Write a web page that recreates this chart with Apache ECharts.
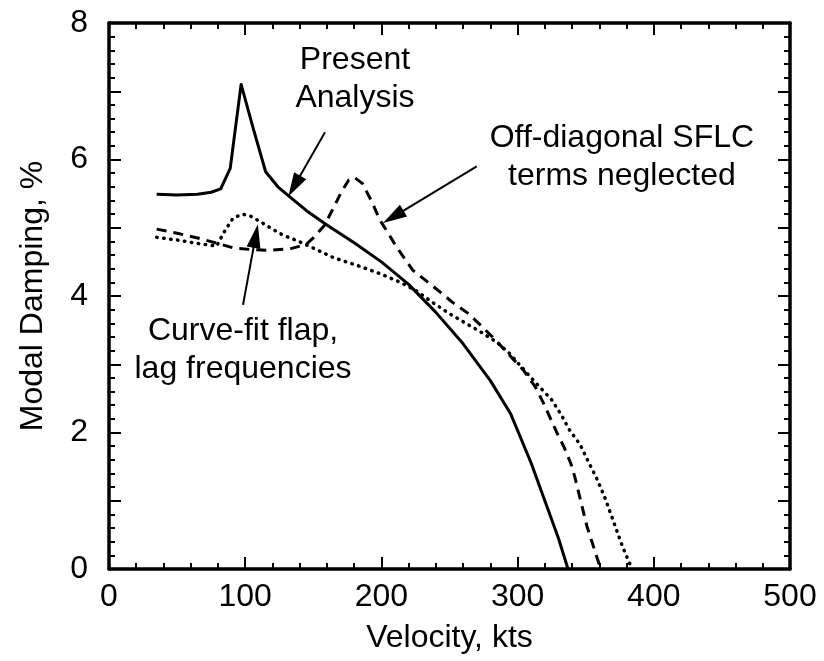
<!DOCTYPE html>
<html>
<head>
<meta charset="utf-8">
<script src="https://cdn.jsdelivr.net/npm/echarts@6/dist/echarts.min.js"></script>
<style>
  html, body { margin: 0; padding: 0; background: #fff; }
  #main { width: 824px; height: 661px; }
</style>
</head>
<body>
<div id="main"></div>
<script>
// present analysis (solid)
var presentKts = [35, 50, 65, 75, 82, 89, 97, 106, 115, 124, 133, 145, 160, 180, 200, 220, 240, 260, 280, 295, 310, 320, 330, 337];
var presentDamp = [5.49, 5.48, 5.49, 5.52, 5.57, 5.87, 7.1, 6.45, 5.82, 5.6, 5.45, 5.25, 5.04, 4.78, 4.5, 4.17, 3.76, 3.3, 2.76, 2.27, 1.55, 1.0, 0.45, 0];

// off-diagonal SFLC terms neglected (dashed)
var offdiagKts = [35, 50, 65, 80, 92, 105, 116, 133, 145, 150, 158, 164, 170, 176, 180, 186, 193, 199, 205, 211, 223, 243, 252, 264, 274, 285, 296, 304, 313, 319, 324, 329, 334, 339, 342, 351, 361];
var offdiagDamp = [4.98, 4.92, 4.85, 4.77, 4.7, 4.68, 4.67, 4.69, 4.76, 4.85, 5.03, 5.26, 5.5, 5.7, 5.74, 5.65, 5.38, 5.11, 4.92, 4.72, 4.38, 4.06, 3.91, 3.74, 3.55, 3.33, 3.09, 2.92, 2.67, 2.43, 2.21, 1.99, 1.79, 1.55, 1.35, 0.62, 0];

// curve-fit flap, lag frequencies (dotted)
var curvefitKts = [35, 50, 65, 79, 84, 91, 98, 104, 111, 120, 128, 137, 147, 165, 182, 200, 214, 226, 238, 250, 262, 274, 285, 294, 310, 325, 332, 338, 346, 352, 358, 364, 370, 377, 384];
var curvefitDamp = [4.86, 4.82, 4.77, 4.73, 4.92, 5.14, 5.2, 5.17, 5.09, 4.98, 4.89, 4.82, 4.73, 4.56, 4.45, 4.32, 4.2, 4.07, 3.9, 3.74, 3.6, 3.46, 3.32, 3.16, 2.8, 2.48, 2.26, 2.04, 1.82, 1.57, 1.33, 1.05, 0.72, 0.33, 0];

// annotation texts and arrows, in data units
var noteText = ['Present\nAnalysis', 'Off-diagonal SFLC\nterms neglected', 'Curve-fit flap,\nlag frequencies'];
var noteAt = [[180.6, 7.18], [376.6, 6.04], [98.4, 3.21]];
var arrowFrom = [[158.6, 6.4], [270, 5.9], [98.4, 3.87]];
var arrowTo = [[136.0, 5.61], [208.7, 5.16], [107.7, 4.88]];

var FONT = '"Liberation Sans", Arial, sans-serif';

function pairs(xs, ys) {
    var out = [];
    for (var i = 0; i < xs.length; i++) out.push([xs[i], ys[i]]);
    return out;
}

// same frame style on all four sides, ticks pointing in
function tickStyle() {
    return {
        axisLine: { show: true, onZero: false, lineStyle: { color: '#000', width: 3.5 } },
        axisTick: { show: true, inside: true, length: 12, lineStyle: { color: '#000', width: 2 } },
        minorTick: { show: true, splitNumber: 5, length: 6, lineStyle: { color: '#000', width: 2 } },
        splitLine: { show: false },
        minorSplitLine: { show: false }
    };
}

function makeX(pos, withLabels) {
    var a = tickStyle();
    a.type = 'value'; a.min = 0; a.max = 500; a.interval = 100; a.position = pos;
    a.axisLabel = withLabels
        ? { show: true, fontSize: 32, color: '#000', margin: 12, fontFamily: FONT }
        : { show: false };
    if (withLabels) {
        a.name = 'Velocity, kts'; a.nameLocation = 'middle'; a.nameGap = 53;
        a.nameTextStyle = { fontSize: 32, color: '#000', fontFamily: FONT };
    }
    return a;
}

function makeY(pos, withLabels) {
    var a = tickStyle();
    a.type = 'value'; a.min = 0; a.max = 8; a.interval = 1; a.position = pos;
    a.axisLabel = withLabels
        ? {
            show: true, fontSize: 32, color: '#000', margin: 21, fontFamily: FONT,
            formatter: function (v) { return v % 2 === 0 ? String(v) : ''; }
        }
        : { show: false };
    if (withLabels) {
        a.name = 'Modal Damping, %'; a.nameLocation = 'middle'; a.nameGap = 60;
        a.nameTextStyle = { fontSize: 32, color: '#000', fontFamily: FONT };
    }
    return a;
}

var arrowLines = [];
for (var i = 0; i < arrowFrom.length; i++) {
    arrowLines.push([{ coord: arrowFrom[i] }, { coord: arrowTo[i] }]);
}
var notes = [];
for (var j = 0; j < noteText.length; j++) {
    notes.push([noteAt[j][0], noteAt[j][1], noteText[j]]);
}

var myChart = echarts.init(document.getElementById('main'));
var option = {
    animation: false,
    backgroundColor: '#fff',
    textStyle: { fontFamily: FONT },
    grid: { left: 109, right: 34, top: 23, bottom: 92, containLabel: false, outerBoundsMode: 'none' },
    xAxis: [makeX('bottom', true), makeX('top', false)],
    yAxis: [makeY('left', true), makeY('right', false)],
    series: [
        {
            name: 'Present Analysis', type: 'line', data: pairs(presentKts, presentDamp),
            showSymbol: false, lineStyle: { color: '#000', width: 3, join: 'round' }
        },
        {
            name: 'Off-diagonal SFLC terms neglected', type: 'line', data: pairs(offdiagKts, offdiagDamp),
            showSymbol: false, lineStyle: { color: '#000', width: 3, type: [10, 7] }
        },
        {
            name: 'Curve-fit flap, lag frequencies', type: 'line', data: pairs(curvefitKts, curvefitDamp),
            showSymbol: false, lineStyle: { color: '#000', width: 3.5, type: [0.5, 6.5], cap: 'round' }
        },
        {
            name: 'notes', type: 'scatter', data: notes, symbolSize: 0, silent: true,
            itemStyle: { color: '#000', opacity: 1 },
            label: {
                show: true, position: 'inside', color: '#000', fontSize: 32, lineHeight: 38,
                fontFamily: FONT, align: 'center', textBorderWidth: 0, opacity: 1,
                formatter: function (p) { return p.data[2]; }
            },
            markLine: {
                silent: true, symbol: ['none', 'triangle'], symbolSize: [14, 24],
                label: { show: false },
                lineStyle: { color: '#000', width: 2, type: 'solid', opacity: 1 },
                data: arrowLines
            }
        }
    ]
};
myChart.setOption(option);
</script>
</body>
</html>
